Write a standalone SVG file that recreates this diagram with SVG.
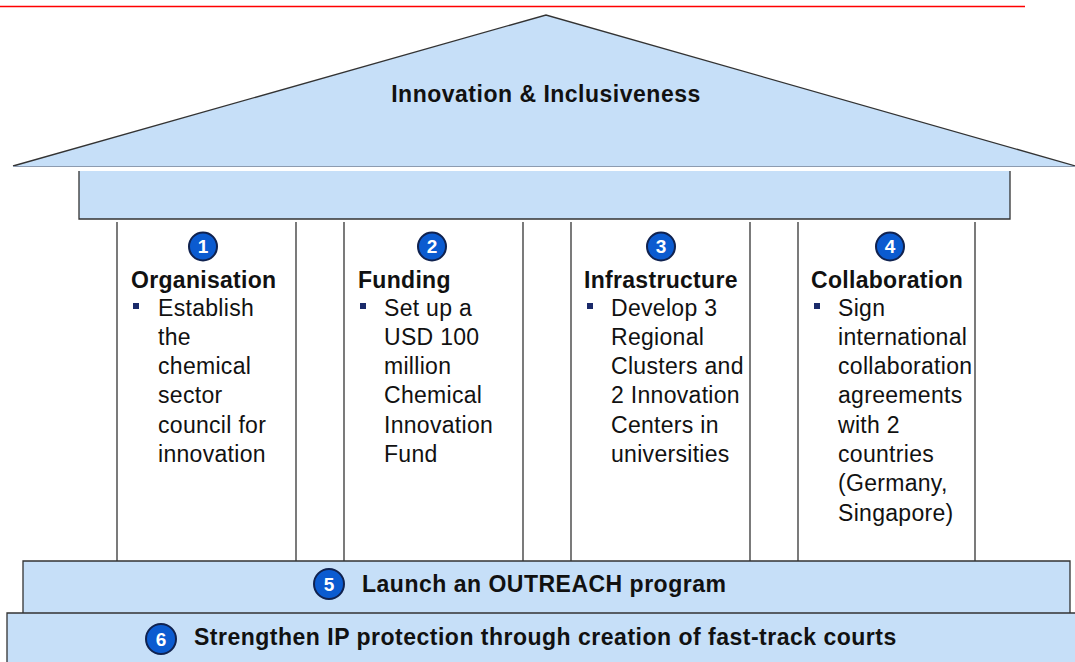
<svg xmlns="http://www.w3.org/2000/svg" width="1075" height="662" viewBox="0 0 1075 662">
<style>
.fill{fill:#c6dff8}
.edge{fill:none;stroke:#333;stroke-width:1.3}
.pil{stroke:#333;stroke-width:1.3}
.t{font-family:"Liberation Sans",Arial,sans-serif;fill:#111}
.ttl{font-size:23px;font-weight:bold;letter-spacing:0.3px}
.body{font-size:23px;letter-spacing:0.3px}
.big{font-size:23px;font-weight:bold;letter-spacing:0.5px}
.num{font-family:"Liberation Sans",Arial,sans-serif;font-weight:bold;font-size:19px;fill:#fff;text-anchor:middle}
.circ{fill:#0b5bd0;stroke:#10224f;stroke-width:2}
.bul{fill:#1a2a6a}
</style>
<rect width="1075" height="662" fill="#fff"/>
<line x1="0" y1="6.5" x2="1025" y2="6.5" stroke="#ff0000" stroke-width="1.5"/>

<g id="roof">
<polygon class="fill" points="13,166 546,15 1079,167"/>
<polyline class="edge" points="13,166 546,15 1079,167"/>
<line x1="13" y1="166.5" x2="1075" y2="166.5" stroke="#8c9bb0" stroke-width="1"/>
<text class="t" x="546" y="102" text-anchor="middle" font-size="23" font-weight="bold" letter-spacing="0.5">Innovation &amp; Inclusiveness</text>
</g>

<g id="beam">
<rect class="fill" x="79" y="171" width="931" height="48"/>
<polyline class="edge" points="79,171 79,219 1010,219 1010,171"/>
</g>

<g id="pillar1">
<line class="pil" x1="117" y1="222" x2="117" y2="561"/>
<line class="pil" x1="296" y1="222" x2="296" y2="561"/>
<circle class="circ" cx="203" cy="246.5" r="14"/>
<text class="num" x="203" y="253">1</text>
<text class="t ttl" x="131" y="288">Organisation</text>
<rect class="bul" x="133" y="303" width="6" height="6"/>
<text class="t body" x="158" y="315.5"><tspan x="158">Establish</tspan><tspan x="158" dy="29.3">the</tspan><tspan x="158" dy="29.3">chemical</tspan><tspan x="158" dy="29.3">sector</tspan><tspan x="158" dy="29.3">council for</tspan><tspan x="158" dy="29.3">innovation</tspan></text>
</g>

<g id="pillar2">
<line class="pil" x1="344" y1="222" x2="344" y2="561"/>
<line class="pil" x1="523" y1="222" x2="523" y2="561"/>
<circle class="circ" cx="432" cy="246.5" r="14"/>
<text class="num" x="432" y="253">2</text>
<text class="t ttl" x="358" y="288">Funding</text>
<rect class="bul" x="360" y="303" width="6" height="6"/>
<text class="t body" x="384" y="315.5"><tspan x="384">Set up a</tspan><tspan x="384" dy="29.3">USD 100</tspan><tspan x="384" dy="29.3">million</tspan><tspan x="384" dy="29.3">Chemical</tspan><tspan x="384" dy="29.3">Innovation</tspan><tspan x="384" dy="29.3">Fund</tspan></text>
</g>

<g id="pillar3">
<line class="pil" x1="571" y1="222" x2="571" y2="561"/>
<line class="pil" x1="750" y1="222" x2="750" y2="561"/>
<circle class="circ" cx="661" cy="246.5" r="14"/>
<text class="num" x="661" y="253">3</text>
<text class="t ttl" x="584" y="288">Infrastructure</text>
<rect class="bul" x="587" y="303" width="6" height="6"/>
<text class="t body" x="611" y="315.5"><tspan x="611">Develop 3</tspan><tspan x="611" dy="29.3">Regional</tspan><tspan x="611" dy="29.3">Clusters and</tspan><tspan x="611" dy="29.3">2 Innovation</tspan><tspan x="611" dy="29.3">Centers in</tspan><tspan x="611" dy="29.3">universities</tspan></text>
</g>

<g id="pillar4">
<line class="pil" x1="798" y1="222" x2="798" y2="561"/>
<line class="pil" x1="975" y1="222" x2="975" y2="561"/>
<circle class="circ" cx="890" cy="246.5" r="14"/>
<text class="num" x="890" y="253">4</text>
<text class="t ttl" x="811" y="288">Collaboration</text>
<rect class="bul" x="814" y="303" width="6" height="6"/>
<text class="t body" x="838" y="315.5"><tspan x="838">Sign</tspan><tspan x="838" dy="29.3">international</tspan><tspan x="838" dy="29.3">collaboration</tspan><tspan x="838" dy="29.3">agreements</tspan><tspan x="838" dy="29.3">with 2</tspan><tspan x="838" dy="29.3">countries</tspan><tspan x="838" dy="29.3">(Germany,</tspan><tspan x="838" dy="29.3">Singapore)</tspan></text>
</g>

<g id="base5">
<rect class="fill" x="23" y="561" width="1047" height="52"/>
<polyline class="edge" points="23,613 23,561 1070,561 1070,613"/>
<circle class="circ" cx="329" cy="584" r="15"/>
<text class="num" x="329" y="590.5">5</text>
<text class="t big" x="362" y="592">Launch an OUTREACH program</text>
</g>

<g id="base6">
<rect class="fill" x="7" y="613" width="1070" height="52"/>
<polyline class="edge" points="7,665 7,613 1077,613"/>
<circle class="circ" cx="161" cy="639" r="15"/>
<text class="num" x="161" y="645.5">6</text>
<text class="t big" x="194" y="645">Strengthen IP protection through creation of fast-track courts</text>
</g>

<g id="connectors"></g>
</svg>
